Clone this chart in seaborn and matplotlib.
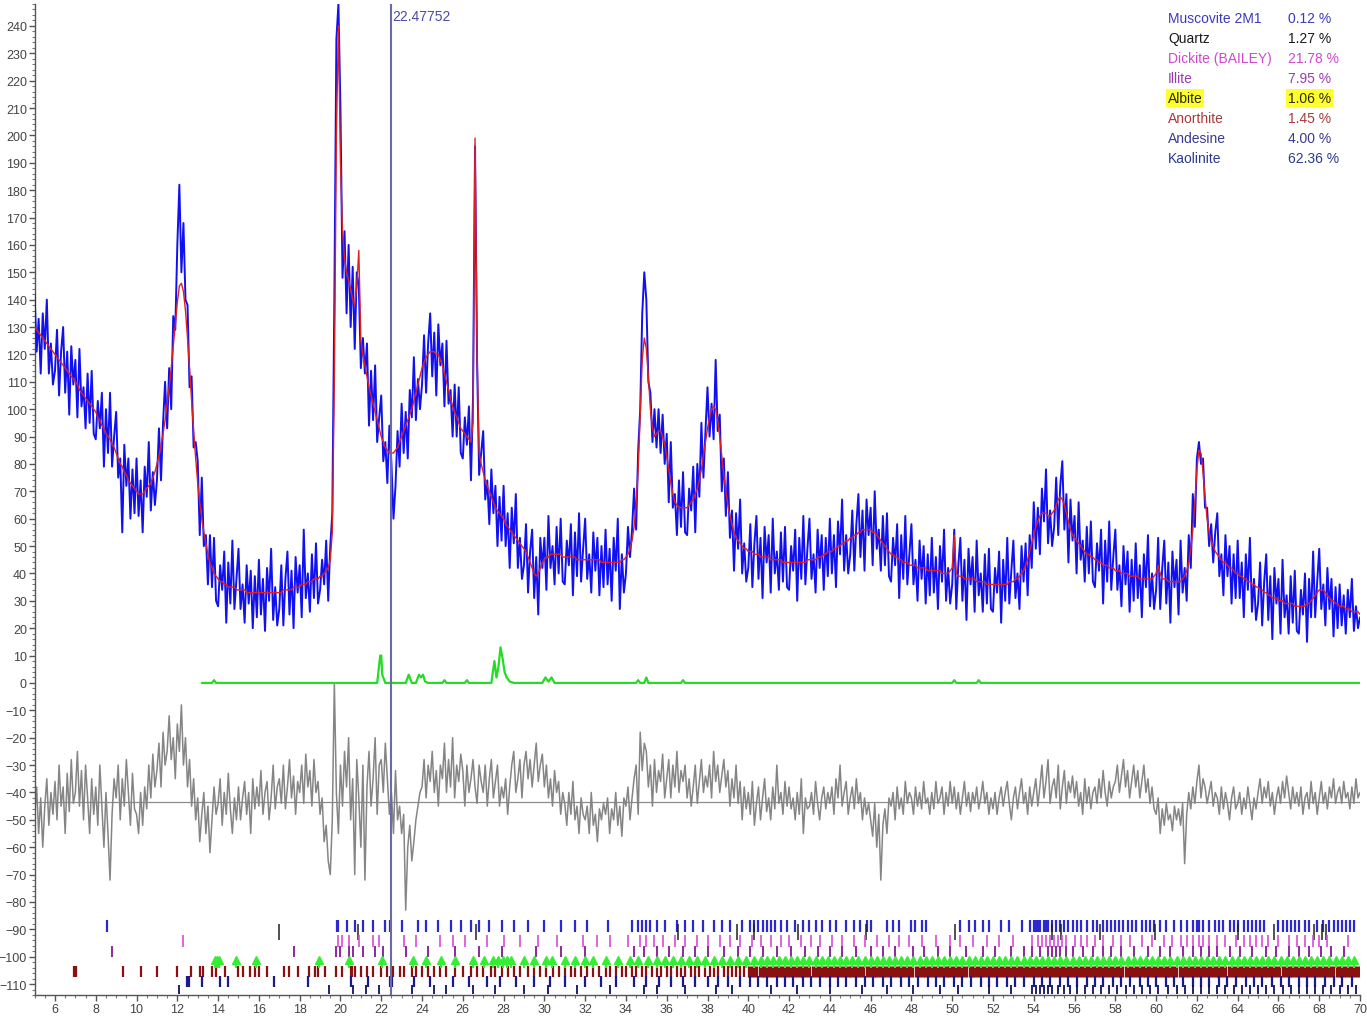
import numpy as np
import pandas as pd
import matplotlib
matplotlib.use("Agg")
import matplotlib.pyplot as plt
from matplotlib.ticker import MultipleLocator
import seaborn as sns

# ---------------- data ----------------
X_START, X_STEP = 5.0, 0.1   # 2-theta sampling of the rows below (one row = one degree)

CALC_ROWS = [
    [130,129,128,127,126,125,124,123,122,121],
    [120,119,118,117,116,115,114,113,112,111],
    [110,109,107,106,105,104,103,102,101,100],
    [99,97,96,94,93,91,90,89,87,86],
    [84,82,80,79,77,76,74,73,72,71],
    [70,69,69,69,70,71,72,73,75,77],
    [80,83,87,91,96,102,108,115,123,131],
    [139,145,146,143,136,126,115,103,92,82],
    [73,66,60,55,51,47,44,42,40,39],
    [38,37,37,36,36,35,35,35,35,34],
    [34,34,34,34,33,33,33,33,33,33],
    [33,33,33,33,33,33,33,33,33,33],
    [33,33,34,34,34,34,34,35,35,35],
    [35,36,36,36,37,37,37,38,38,38],
    [39,39,40,41,42,45,55,110,200,240],
    [190,165,155,150,147,144,140,138,145,158],
    [125,120,116,112,108,105,102,99,96,93],
    [90,88,86,85,84,84,84,85,86,88],
    [90,92,94,96,98,100,103,106,109,112],
    [115,117,119,120,121,121,121,120,120,118],
    [116,113,110,107,104,101,99,97,95,93],
    [92,91,90,89,88,95,199,120,84,80],
    [77,74,72,70,68,66,64,63,62,61],
    [60,58,57,56,55,54,53,52,51,50],
    [49,48,46,44,42,40,39,40,42,44],
    [45,46,46,47,47,47,47,47,47,46],
    [46,46,46,46,46,46,45,45,45,45],
    [45,45,45,45,45,45,45,45,44,44],
    [44,44,44,44,44,44,44,44,45,45],
    [46,47,49,52,57,65,78,98,118,126],
    [122,112,100,93,90,91,92,92,90,87],
    [83,78,73,69,66,65,64,64,64,64],
    [64,65,66,67,69,71,74,78,83,88],
    [93,97,100,101,100,96,90,83,76,70],
    [65,61,58,55,53,52,51,50,49,49],
    [48,48,48,47,47,47,46,46,46,46],
    [46,45,45,45,45,45,45,44,44,44],
    [44,44,44,44,44,44,44,44,44,45],
    [45,45,45,45,46,46,46,47,47,48],
    [48,48,49,49,50,50,51,51,52,52],
    [53,53,54,54,55,55,56,56,56,56],
    [56,55,55,54,53,52,51,50,49,48],
    [47,47,46,46,45,45,44,44,44,43],
    [43,43,43,42,42,42,42,42,41,41],
    [41,41,41,41,41,40,40,40,40,41],
    [42,54,40,39,39,39,38,38,38,38],
    [38,38,37,37,37,37,37,36,36,36],
    [36,36,36,36,36,36,36,36,37,37],
    [37,38,38,39,40,41,43,45,48,51],
    [54,57,59,61,62,62,62,61,61,62],
    [63,65,67,68,67,65,62,59,56,54],
    [53,52,51,50,49,48,47,47,46,46],
    [45,45,44,44,43,43,43,42,42,42],
    [41,41,41,40,40,40,40,39,39,39],
    [39,39,38,38,38,38,38,38,38,39],
    [40,43,40,38,38,38,37,37,37,37],
    [37,37,37,38,39,41,44,49,56,66],
    [78,85,84,77,68,60,55,52,50,48],
    [47,46,45,44,44,43,42,42,41,40],
    [40,39,39,38,38,37,37,36,36,35],
    [35,34,34,33,33,32,32,31,31,31],
    [30,30,30,29,29,29,29,29,28,28],
    [28,28,28,28,29,29,30,31,32,33],
    [34,34,34,33,32,31,30,30,29,29],
    [28,28,28,27,27,27,26,26,26,26],
    [25],
]

OBS_ROWS = [
    [142,121,133,113,135,122,140,113,124,109],
    [114,129,105,121,130,106,121,98,123,109],
    [118,97,122,101,108,93,113,95,114,91],
    [89,103,93,106,79,100,84,106,79,90],
    [99,75,82,55,87,72,82,60,78,62],
    [82,61,74,55,79,68,88,63,77,65],
    [74,93,74,95,110,93,115,100,134,129],
    [160,182,150,168,140,138,108,112,86,88],
    [81,54,75,50,54,36,54,35,53,30],
    [28,43,34,48,22,44,29,52,27,38],
    [49,27,36,22,43,29,41,20,39,24],
    [45,25,38,19,42,30,49,23,35,21],
    [27,43,21,38,48,25,41,20,46,33],
    [43,24,56,31,40,26,47,31,51,29],
    [34,45,36,52,30,50,62,140,235,248],
    [210,148,165,135,160,130,152,122,150,145],
    [115,126,113,124,94,114,96,116,88,97],
    [105,81,88,73,94,80,60,72,92,79],
    [102,84,99,82,107,97,119,96,111,100],
    [109,127,106,124,135,112,128,105,131,116],
    [124,101,125,102,107,90,109,90,108,84],
    [82,97,87,101,74,104,196,118,76,84],
    [92,67,74,58,78,62,72,50,68,52],
    [72,50,62,42,64,51,69,42,53,38],
    [43,58,33,48,56,31,46,25,53,42],
    [53,34,61,42,50,36,57,40,60,37],
    [36,52,43,58,32,55,39,62,37,49],
    [60,38,47,33,55,41,53,32,50,35],
    [56,36,49,30,53,41,60,27,47,33],
    [40,57,46,56,71,56,85,100,135,150],
    [140,110,106,88,100,86,100,84,98,80],
    [91,66,88,64,69,54,74,57,77,55],
    [54,71,63,79,55,80,68,95,75,92],
    [108,90,102,89,118,92,98,70,82,61],
    [77,53,63,41,62,49,67,40,51,37],
    [42,58,35,51,61,38,53,31,57,44],
    [54,33,60,40,48,34,55,37,57,35],
    [34,50,41,56,30,53,38,61,36,49],
    [60,38,47,33,56,42,54,34,53,39],
    [60,40,54,35,59,47,67,41,54,40],
    [47,63,41,58,69,46,63,41,67,54],
    [64,43,70,49,56,41,61,43,62,39],
    [37,53,43,58,31,54,38,61,36,47],
    [58,36,45,30,52,38,50,29,47,32],
    [53,33,46,27,50,37,56,30,42,29],
    [36,56,27,43,53,30,45,23,49,36],
    [46,26,52,32,40,26,47,29,49,27],
    [26,42,33,48,22,45,30,53,29,41],
    [52,31,40,27,50,37,51,32,54,42],
    [66,49,64,47,71,59,78,51,63,50],
    [57,75,54,72,81,56,69,44,67,52],
    [61,40,66,45,52,37,57,40,59,37],
    [35,51,41,56,29,52,37,59,34,46],
    [56,34,43,28,50,36,48,26,45,30],
    [51,31,43,24,47,35,54,28,40,27],
    [34,53,27,42,52,29,44,22,48,35],
    [45,25,52,33,42,30,54,42,69,57],
    [82,88,80,82,64,64,50,58,44,55],
    [62,39,47,32,54,39,50,29,47,31],
    [52,31,44,24,47,34,53,26,38,23],
    [29,44,21,37,47,23,39,16,42,29],
    [38,18,45,24,32,18,39,22,41,19],
    [18,34,25,40,15,38,24,48,24,37],
    [49,27,36,21,42,27,38,17,35,20],
    [36,21,32,18,34,24,38,19,28,20],
    [24],
]

DIFF_ROWS = [
    [-50,-38,-55,-42,-60,-45,-35,-52,-40,-48],
    [-36,-50,-30,-45,-38,-55,-33,-47,-28,-44],
    [-40,-25,-45,-32,-50,-30,-42,-55,-35,-48],
    [-38,-52,-30,-45,-60,-40,-55,-72,-48,-35],
    [-42,-30,-50,-35,-45,-28,-40,-52,-33,-46],
    [-48,-55,-40,-52,-38,-46,-30,-42,-26,-38],
    [-32,-22,-38,-18,-30,-25,-12,-28,-20,-35],
    [-15,-25,-8,-30,-20,-38,-28,-45,-35,-50],
    [-42,-58,-48,-40,-55,-45,-62,-50,-38,-48],
    [-44,-35,-52,-40,-48,-33,-46,-55,-42,-50],
    [-38,-50,-42,-36,-48,-40,-55,-35,-46,-38],
    [-45,-32,-48,-40,-36,-50,-42,-30,-46,-38],
    [-35,-44,-30,-46,-38,-28,-42,-34,-48,-36],
    [-40,-30,-44,-26,-38,-32,-45,-28,-40,-36],
    [-48,-42,-58,-52,-65,-70,-50,0,-40,-55],
    [-30,-45,-25,-38,-20,-50,-35,-70,-28,-42],
    [-60,-30,-72,-38,-25,-45,-35,-20,-48,-30],
    [-28,-40,-22,-35,-48,-40,-55,-32,-50,-45],
    [-55,-48,-83,-60,-52,-65,-58,-50,-45,-40],
    [-38,-28,-42,-30,-36,-25,-40,-32,-45,-30],
    [-35,-22,-40,-28,-38,-20,-42,-30,-36,-26],
    [-32,-45,-30,-40,-35,-28,-38,-44,-30,-36],
    [-40,-30,-45,-35,-28,-42,-36,-30,-45,-38],
    [-42,-35,-48,-38,-30,-25,-40,-35,-28,-42],
    [-30,-25,-35,-28,-38,-30,-22,-36,-30,-26],
    [-38,-30,-42,-35,-45,-32,-40,-36,-48,-40],
    [-44,-52,-40,-48,-36,-50,-45,-55,-42,-48],
    [-50,-45,-55,-40,-52,-48,-58,-46,-50,-44],
    [-48,-42,-55,-46,-50,-40,-52,-45,-56,-42],
    [-45,-38,-50,-42,-35,-30,-48,-18,-32,-22],
    [-25,-38,-30,-45,-28,-40,-32,-36,-26,-42],
    [-35,-28,-42,-30,-38,-25,-40,-32,-36,-30],
    [-42,-35,-45,-38,-30,-44,-36,-28,-40,-34],
    [-38,-30,-42,-25,-36,-30,-40,-34,-28,-38],
    [-32,-45,-35,-42,-30,-44,-36,-50,-38,-46],
    [-40,-48,-36,-52,-44,-38,-50,-42,-35,-47],
    [-42,-50,-38,-46,-30,-44,-40,-48,-36,-45],
    [-38,-46,-42,-50,-40,-48,-35,-55,-42,-46],
    [-45,-40,-48,-36,-44,-50,-42,-38,-46,-40],
    [-44,-38,-48,-35,-42,-30,-45,-40,-36,-48],
    [-42,-38,-46,-35,-44,-40,-50,-42,-48,-44],
    [-50,-56,-44,-60,-48,-72,-52,-46,-55,-42],
    [-45,-40,-50,-38,-46,-42,-48,-36,-44,-40],
    [-42,-48,-38,-45,-40,-46,-36,-44,-42,-48],
    [-40,-46,-36,-44,-42,-38,-48,-40,-45,-36],
    [-44,-38,-46,-40,-48,-42,-36,-45,-40,-47],
    [-40,-44,-38,-46,-42,-36,-44,-40,-48,-42],
    [-46,-40,-48,-42,-38,-45,-40,-36,-44,-50],
    [-42,-38,-46,-40,-35,-44,-40,-48,-38,-45],
    [-40,-35,-45,-38,-30,-42,-36,-28,-44,-38],
    [-35,-42,-30,-46,-38,-32,-44,-36,-40,-34],
    [-42,-36,-45,-40,-48,-35,-44,-38,-46,-40],
    [-38,-44,-35,-42,-32,-40,-45,-36,-42,-38],
    [-36,-30,-40,-34,-28,-38,-32,-42,-36,-30],
    [-38,-32,-42,-36,-30,-40,-35,-44,-38,-46],
    [-48,-42,-55,-46,-52,-44,-50,-48,-54,-45],
    [-50,-46,-52,-44,-66,-48,-40,-46,-38,-44],
    [-36,-30,-42,-35,-38,-44,-40,-36,-45,-40],
    [-42,-48,-38,-46,-40,-44,-50,-42,-38,-46],
    [-44,-40,-48,-42,-46,-38,-44,-50,-42,-46],
    [-40,-35,-44,-38,-42,-36,-45,-40,-48,-42],
    [-38,-44,-36,-42,-34,-40,-46,-38,-44,-40],
    [-45,-38,-48,-42,-40,-46,-36,-44,-40,-48],
    [-42,-36,-44,-40,-46,-38,-42,-35,-44,-40],
    [-38,-44,-36,-42,-40,-46,-38,-44,-35,-42],
    [-40],
]

DIFF_ZERO = -43.5
CURSOR_X = 22.47752

GREEN_X = [13.2, 13.7, 13.8, 13.9, 21.8, 21.95, 22.0, 22.05, 22.2, 23.2, 23.35, 23.5,
           23.7, 23.85, 23.95, 24.05, 24.15, 24.3, 25.0, 25.1, 25.2, 26.1, 26.2, 26.3,
           27.4, 27.55, 27.65, 27.75, 27.85, 27.95, 28.05, 28.15, 28.3, 28.5, 29.9, 30.05,
           30.2, 30.35, 30.5, 30.7, 34.5, 34.6, 34.7, 34.9, 35.0, 35.1, 36.7, 36.8,
           36.9, 50.0, 50.1, 50.2, 51.2, 51.3, 51.4, 70.0]
GREEN_Y = [0, 0, 1, 0, 0, 10, 10, 3, 0, 0, 3, 0,
           0, 3, 2, 3, 0.5, 0, 0, 1, 0, 0, 1, 0,
           0, 8, 2, 6, 13, 9, 4, 2, 0.5, 0, 0, 2,
           0.5, 2, 0, 0, 0, 1, 0, 0, 2, 0, 0, 1,
           0, 0, 1, 0, 0, 1, 0, 0]

MUSCOVITE_TICKS = [8.55, 19.85, 19.9, 20.3, 20.7, 21.1, 21.6, 22.2, 22.45, 23.0, 23.8, 24.2, 24.8,
    25.4, 25.9, 26.4, 26.8, 27.3, 27.9, 28.5, 29.2, 30.0, 30.8, 31.5, 32.1, 33.1, 34.3,
    34.6, 34.8, 35.0, 35.2, 35.5, 35.9, 36.5, 36.9, 37.3, 37.8, 38.3, 38.7, 39.1, 39.7,
    40.1, 40.3, 40.5, 40.7, 40.9, 41.1, 41.3, 41.6, 41.9, 42.3, 42.7, 43.0, 43.3, 43.6,
    44.0, 44.3, 44.8, 45.2, 45.5, 45.8, 46.0, 46.8, 47.1, 47.4, 48.0, 48.2, 48.5, 48.7,
    50.4, 50.8, 51.1, 51.5, 51.8, 52.4, 52.8, 53.4, 53.8, 54.0, 54.1, 54.2, 54.3, 54.5,
    54.6, 54.7, 54.9, 55.1, 55.3, 55.5, 55.7, 55.9, 56.1, 56.3, 56.6, 56.9, 57.1, 57.4,
    57.6, 57.8, 58.0, 58.2, 58.4, 58.6, 58.8, 59.0, 59.3, 59.5, 59.7, 59.9, 60.2, 60.5,
    60.9, 61.2, 61.5, 61.8, 62.0, 62.1, 62.3, 62.6, 62.9, 63.1, 63.3, 63.6, 63.8, 64.0,
    64.3, 64.5, 64.7, 64.9, 65.1, 65.3, 66.0, 66.2, 66.4, 66.6, 66.8, 67.0, 67.3, 67.5,
    67.9, 68.2, 68.5, 68.7, 68.9, 69.1, 69.3, 69.5, 69.7]
QUARTZ_TICKS = [17.0, 20.86, 26.64, 36.54, 39.47, 40.29, 42.45, 45.79, 50.14, 54.87, 55.33,
    57.24, 59.96, 64.03, 65.79, 67.74, 68.14, 68.31]
DICKITE_TICKS = [12.3, 19.9, 20.1, 20.4, 20.9, 21.6, 21.9, 23.1, 23.7, 24.9, 25.5, 26.1, 27.2,
    28.0, 28.8, 29.7, 30.6, 31.9, 32.6, 33.2, 34.1, 34.7, 35.0, 35.4, 35.8, 36.4, 36.9,
    37.5, 38.0, 38.6, 39.1, 39.6, 40.2, 40.6, 41.1, 41.6, 42.0, 42.6, 43.1, 43.5, 44.1,
    44.6, 45.2, 45.7, 46.3, 46.9, 47.4, 47.9, 48.5, 49.2, 49.9, 50.4, 51.0, 51.7, 52.3,
    53.0, 53.9, 54.2, 54.4, 54.6, 54.8, 55.0, 55.2, 55.4, 55.6, 56.0, 56.3, 56.6, 57.0,
    57.4, 57.9, 58.3, 58.7, 59.3, 59.8, 60.4, 60.8, 61.2, 61.5, 61.8, 62.1, 62.3, 62.6,
    63.0, 63.4, 63.9, 64.3, 64.6, 64.9, 65.2, 65.5, 66.0, 66.5, 66.9, 67.3, 67.7, 68.0,
    68.4, 69.4]
ILLITE_TICKS = [8.8, 17.7, 19.8, 20.0, 20.4, 20.6, 21.1, 21.7, 22.1, 23.2, 24.3, 25.6, 26.8,
    27.9, 29.6, 30.8, 32.0, 34.4, 34.9, 35.5, 36.1, 36.8, 37.4, 38.0, 38.8, 39.5, 40.1,
    40.7, 41.4, 42.1, 42.8, 43.4, 44.0, 44.6, 45.3, 46.0, 46.6, 47.2, 48.1, 48.6, 49.3,
    49.9, 50.7, 51.5, 52.1, 52.9, 53.5, 53.9, 54.3, 54.7, 54.9, 55.1, 55.3, 55.6, 55.9,
    56.4, 56.9, 57.4, 57.8, 58.3, 58.9, 59.6, 60.2, 60.7, 61.3, 61.8, 62.2, 62.6, 63.0,
    63.6, 64.1, 64.7, 65.4, 65.9, 66.5, 67.0, 67.5, 68.1, 68.6, 69.2]
ALBITE_TICKS = [13.85, 13.95, 14.05, 14.9, 15.85, 18.95, 20.4, 22.05, 23.55, 24.2, 24.95,
    25.6, 26.5, 27.05, 27.5, 27.75, 27.95, 28.15, 28.35, 29.0, 29.5, 30.1, 30.35, 31.0,
    31.5, 32.0, 32.4, 33.0, 33.6, 34.2, 34.6, 35.1, 35.5, 35.9, 36.3, 36.7, 37.1, 37.5,
    37.9, 38.3, 38.7, 39.1, 39.5, 39.9, 40.3, 40.6, 40.9, 41.2, 41.5, 41.8, 42.1, 42.4,
    42.7, 43.0, 43.3, 43.6, 43.9, 44.2, 44.5, 44.8, 45.1, 45.4, 45.7, 46.0, 46.3, 46.6,
    46.9, 47.2, 47.5, 47.8, 48.1, 48.4, 48.7, 49.0, 49.3, 49.6, 49.9, 50.2, 50.5, 50.8,
    51.1, 51.4, 51.7, 52.0, 52.3, 52.6, 52.9, 53.2, 53.5, 53.8, 54.1, 54.4, 54.7, 55.0,
    55.3, 55.6, 55.9, 56.2, 56.5, 56.8, 57.1, 57.4, 57.7, 58.0, 58.3, 58.6, 58.9, 59.2,
    59.5, 59.8, 60.1, 60.4, 60.7, 61.0, 61.3, 61.6, 61.9, 62.2, 62.5, 62.8, 63.1, 63.4,
    63.7, 64.0, 64.3, 64.6, 64.9, 65.2, 65.5, 65.8, 66.1, 66.4, 66.7, 67.0, 67.3, 67.6,
    67.9, 68.2, 68.5, 68.8, 69.1, 69.4, 69.7]
ANORTHITE_TICKS = [6.95, 7.05, 9.35, 10.2, 11.0, 12.0, 12.65, 13.1, 13.25, 13.7, 13.9, 14.35,
    15.0, 15.2, 15.55, 15.8, 16.0, 16.4, 17.25, 17.5, 17.9, 18.45, 18.75, 18.9, 19.25,
    19.8, 20.1, 20.5, 20.55, 20.7, 21.0, 21.3, 21.6, 22.0, 22.3, 22.6, 22.9, 23.1, 23.5,
    23.7, 24.0, 24.3, 24.6, 24.9, 25.2, 25.6, 26.0, 26.4, 26.7, 27.0, 27.4, 27.6, 27.9,
    28.2, 28.5, 28.8, 29.2, 29.5, 29.8, 30.1, 30.4, 30.7, 31.0, 31.3, 31.5, 31.8, 32.1,
    32.4, 32.7, 33.0, 33.2, 33.5, 33.8, 34.0, 34.3, 34.5, 34.8, 35.0, 35.3, 35.5, 35.7,
    36.0, 36.2, 36.5, 36.7, 36.9, 37.2, 37.4, 37.6, 37.9, 38.1, 38.3, 38.5, 38.8, 39.0,
    39.2, 39.4, 39.6, 39.8]
ANORTHITE_DENSE = [40.1, 40.35, 40.6, 40.8, 41.05, 41.3, 41.5, 41.75, 42.0, 42.25, 42.5, 42.7,
    42.95, 43.2, 43.45, 43.7, 43.9, 44.15, 44.4, 44.65, 44.9, 45.1, 45.35, 45.6, 45.85,
    46.1, 46.3, 46.55, 46.8, 47.05, 47.3, 47.5, 47.75, 48.0, 48.25, 48.5, 48.7, 48.95,
    49.2, 49.45, 49.7, 49.9, 50.15, 50.4, 50.65, 50.9, 51.1, 51.35, 51.6, 51.85, 52.1,
    52.3, 52.55, 52.8, 53.05, 53.3, 53.5, 53.75, 54.0, 54.25, 54.5, 54.7, 54.95, 55.2,
    55.45, 55.7, 55.9, 56.15, 56.4, 56.65, 56.9, 57.1, 57.35, 57.6, 57.85, 58.1, 58.3,
    58.55, 58.8, 59.05, 59.3, 59.5, 59.75, 60.0, 60.25, 60.5, 60.7, 60.95, 61.2, 61.45,
    61.7, 61.9, 62.15, 62.4, 62.65, 62.9, 63.1, 63.35, 63.6, 63.85, 64.1, 64.3, 64.55,
    64.8, 65.05, 65.3, 65.5, 65.75, 66.0, 66.25, 66.5, 66.7, 66.95, 67.2, 67.45, 67.7,
    67.9, 68.15, 68.4, 68.65, 68.9, 69.1, 69.35, 69.6, 69.85]
ANDESINE_TICKS = [12.45, 12.55, 13.2, 14.1, 14.5, 16.75, 18.4, 20.5, 21.35, 22.45, 22.55,
    23.6, 24.4, 25.5, 26.3, 27.2, 27.8, 28.6, 29.5, 30.3, 31.0, 32.0, 32.8, 33.5, 34.4,
    35.0, 35.6, 36.2, 36.8, 37.4, 38.0, 38.5, 39.0, 39.6, 40.1, 40.5, 40.9, 41.4, 41.8,
    42.2, 42.7, 43.1, 43.5, 44.0, 44.4, 44.8, 45.3, 45.7, 46.1, 46.6, 47.0, 47.5, 47.9,
    48.3, 48.8, 49.2, 49.6, 50.1, 50.5, 50.9, 51.4, 51.8, 52.2, 52.7, 53.1, 53.5, 54.0,
    54.4, 54.8, 55.3, 55.7, 56.1, 56.6, 57.0, 57.4, 57.9, 58.3, 58.7, 59.2, 59.6, 60.0,
    60.5, 60.9, 61.3, 61.8, 62.2, 62.6, 63.1, 63.5, 63.9, 64.4, 64.8, 65.2, 65.7, 66.1,
    66.5, 67.0, 67.4, 67.8, 68.3, 68.7, 69.1, 69.6]
KAOLINITE_TICKS = [12.1, 19.45, 20.6, 21.25, 21.9, 23.5, 24.6, 25.2, 26.5, 27.6, 29.0, 30.2,
    31.6, 33.2, 34.9, 35.5, 36.9, 38.4, 39.2, 41.1, 42.4, 44.0, 45.6, 46.8, 48.1, 49.4,
    50.3, 51.8, 52.9, 53.9, 54.1, 54.3, 54.5, 54.7, 54.9, 55.2, 55.5, 55.8, 56.1, 56.5,
    56.9, 57.3, 57.7, 58.1, 58.5, 58.9, 59.3, 59.7, 60.1, 60.6, 61.0, 61.4, 61.8, 62.2,
    62.6, 63.0, 63.4, 63.8, 64.2, 64.6, 65.0, 65.4, 65.8, 66.2, 66.6, 67.0, 67.4, 67.8,
    68.2, 68.6, 69.0, 69.4, 69.8]

PHASE_NAMES = ["Muscovite 2M1", "Quartz", "Dickite (BAILEY)", "Illite", "Albite",
               "Anorthite", "Andesine", "Kaolinite"]
PHASE_PCT = ["0.12 %", "1.27 %", "21.78 %", "7.95 %", "1.06 %", "1.45 %", "4.00 %", "62.36 %"]
PHASE_COLORS = ["#3a3ac0", "#1a1a1a", "#d048d0", "#9a3ab0", "#2a2a10", "#a83a3a", "#3a3a90", "#2a3a90"]

# ---------------- build table ----------------
def flat(rows):
    out = []
    for r in rows:
        out.extend(r)
    return out

calc = flat(CALC_ROWS)
obs = flat(OBS_ROWS)
diff = flat(DIFF_ROWS)
n = len(calc)
assert len(obs) == n and len(diff) == n, (len(calc), len(obs), len(diff))
assert len(GREEN_X) == len(GREEN_Y)
two_theta = np.round(X_START + X_STEP * np.arange(n), 2)
df = pd.DataFrame({"2theta": two_theta, "obs": obs, "calc": calc, "diff": diff})
gdf = pd.DataFrame({"2theta": GREEN_X, "albite": GREEN_Y})

# ---------------- plot ----------------
sns.set_theme(style="ticks")
plt.rcParams["font.family"] = ["Liberation Sans", "DejaVu Sans"]

fig = plt.figure(figsize=(13.67, 10.20), dpi=100)
ax = fig.add_axes([0.0253, 0.0235, 0.9696, 0.9716])

ax.axhline(DIFF_ZERO, color="#8c8c8c", lw=0.9, zorder=1)
sns.lineplot(data=df, x="2theta", y="diff", ax=ax, color="#858585", lw=1.1,
             estimator=None, sort=False, zorder=2)
sns.lineplot(data=df, x="2theta", y="obs", ax=ax, color="#1010f0", lw=1.4,
             estimator=None, sort=False, zorder=3)
sns.lineplot(data=df, x="2theta", y="calc", ax=ax, color="#e02020", lw=1.0,
             estimator=None, sort=False, zorder=4)
sns.lineplot(data=gdf, x="2theta", y="albite", ax=ax, color="#22dd22", lw=1.6,
             estimator=None, sort=False, zorder=3)

# reflection tick rows
ax.vlines(MUSCOVITE_TICKS, -91, -86.5, color="#2a2ad0", lw=1.6, zorder=2)
ax.vlines(QUARTZ_TICKS, -94, -88, color="#202020", lw=1.1, zorder=2)
ax.vlines(DICKITE_TICKS, -96.5, -92, color="#d84ad8", lw=1.2, zorder=2)
ax.vlines(ILLITE_TICKS, -100, -96, color="#8a2a9a", lw=1.4, zorder=2)
ax.vlines(ANORTHITE_TICKS, -107.5, -103.5, color="#8b1010", lw=1.6, zorder=2)
ax.vlines(ANORTHITE_DENSE, -107.5, -103.5, color="#8b1010", lw=3.8, zorder=2)
ax.vlines(ALBITE_TICKS, -104, -100.5, color="#33ee33", lw=1.4, zorder=3)
ax.plot(ALBITE_TICKS, [-101.2] * len(ALBITE_TICKS), ls="none", marker="^",
        ms=6, color="#33ee33", zorder=3)
ax.vlines(ANDESINE_TICKS, -111, -107, color="#1a1a8a", lw=1.6, zorder=2)
ax.vlines(KAOLINITE_TICKS, -113.5, -110.5, color="#101060", lw=1.3, zorder=2)

# cursor line
ax.axvline(CURSOR_X, color="#6a6aaa", lw=1.5, zorder=5)
ax.text(CURSOR_X + 0.05, 243.5, f"{CURSOR_X:.5f}", color="#4a4aa8", fontsize=10,
        ha="left", va="center", zorder=6)

ax.set_xlim(5, 70)
ax.set_ylim(-114, 248)
ax.set_xlabel("")
ax.set_ylabel("")
ax.xaxis.set_major_locator(MultipleLocator(2))
ax.xaxis.set_minor_locator(MultipleLocator(0.5))
ax.yaxis.set_major_locator(MultipleLocator(10))
ax.yaxis.set_minor_locator(MultipleLocator(2))
ax.set_xticks(np.arange(6, 71, 2))
ax.set_yticks(np.arange(-110, 241, 10))
ax.tick_params(axis="both", which="major", length=4, width=1, color="#555555",
               labelsize=9, labelcolor="#444444", pad=1.5, direction="out")
ax.tick_params(axis="both", which="minor", length=2, width=0.8, color="#777777")
for s in ["top", "right"]:
    ax.spines[s].set_visible(False)
for s in ["left", "bottom"]:
    ax.spines[s].set_color("#555555")
    ax.spines[s].set_linewidth(1.0)

# phase legend (top right)
for i, (name, pct, col) in enumerate(zip(PHASE_NAMES, PHASE_PCT, PHASE_COLORS)):
    y = 1 - (19 + 20 * i) / 1020
    kw = dict(transform=fig.transFigure, fontsize=10, color=col, va="center", ha="left")
    if name == "Albite":
        box = dict(boxstyle="square,pad=0.12", fc="#ffff30", ec="none")
        fig.text(1168 / 1367, y, name, bbox=box, **kw)
        fig.text(1288 / 1367, y, pct, bbox=box, **kw)
    else:
        fig.text(1168 / 1367, y, name, **kw)
        fig.text(1288 / 1367, y, pct, **kw)

fig.savefig("out.png", dpi=100)
